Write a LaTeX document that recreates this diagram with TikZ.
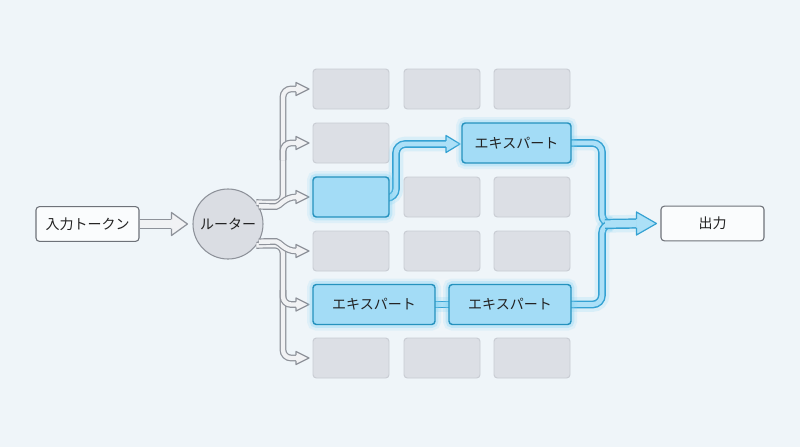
\documentclass[tikz,border=0pt]{standalone}
\usepackage{fontspec}
\newfontfamily\jp{Noto Sans CJK JP}
\usetikzlibrary{calc}
\definecolor{bgc}{HTML}{EFF5F9}
\definecolor{gfill}{HTML}{DCDFE5}
\definecolor{gline}{HTML}{C8CCD3}
\definecolor{pline}{HTML}{8E929A}
\definecolor{pinner}{HTML}{F1F2F4}
\definecolor{rfill}{HTML}{DADDE3}
\definecolor{bfill}{HTML}{A3DCF6}
\definecolor{bline}{HTML}{2592BE}
\definecolor{bpline}{HTML}{35A2D3}
\definecolor{bpfill}{HTML}{ACE0F7}
\definecolor{glowc}{HTML}{7FD3F5}
\definecolor{txt}{HTML}{222222}
\definecolor{ioline}{HTML}{6E7279}
\newcommand\ahead[6]{%
  \fill[fill=#1] (#3) -- ($(#3)+(-#4,-#5)$) -- ($(#3)+(-#4,#5)$) -- cycle;
  \draw[draw=#2,line width=0.9pt,line join=round] ($(#3)+(-#4,-#6)$) -- ($(#3)+(-#4,-#5)$) -- (#3) -- ($(#3)+(-#4,#5)$) -- ($(#3)+(-#4,#6)$);
}
\begin{document}
\begin{tikzpicture}[x=0.75pt,y=-0.75pt,
  every node/.style={font=\jp\fontsize{10.5}{12}\selectfont, text=txt},
  gbox/.style={draw=gline, fill=gfill, line width=0.7pt, rounded corners=2.5pt, minimum width=57pt, minimum height=30pt, inner sep=0pt},
  bbox/.style={draw=bline, fill=bfill, line width=1.1pt, rounded corners=2.5pt, minimum height=30pt, inner sep=0pt,
     preaction={draw=glowc, line width=9pt, opacity=0.15},
     preaction={draw=glowc, line width=5pt, opacity=0.3}},
  iobox/.style={draw=ioline, fill=white!70!bgc, line width=0.8pt, rounded corners=2.5pt, minimum width=77.25pt, minimum height=26pt, inner sep=0pt},
  router/.style={circle, draw=pline, fill=rfill, line width=0.8pt, minimum size=52.5pt, inner sep=0pt},
  gpipe/.style={draw=pline, double=pinner, double distance=3.3pt, line width=0.9pt, rounded corners=6pt},
  inpipe/.style={draw=pline, double=pinner, double distance=6pt, line width=0.9pt},
  bpipe/.style={draw=bpline, double=bpfill, double distance=3.6pt, line width=1.1pt, rounded corners=7pt,
     preaction={draw=glowc, line width=11pt, opacity=0.2}},
  bpipew/.style={draw=bpline, double=bpfill, double distance=5.5pt, line width=1.1pt,
     preaction={draw=glowc, line width=13pt, opacity=0.2}}
]
\fill[bgc] (0,0) rectangle (800,447);
\useasboundingbox (0,0) rectangle (800,447);

% nodes
\node[iobox] (in) at (87.5,224) {入力トークン};
\node[router] (ro) at (228,224) {ルーター};
\node[iobox] (out) at (712.5,223.5) {出力};

\node[gbox] (g11) at (351,89) {};
\node[gbox] (g12) at (442,89) {};
\node[gbox] (g13) at (532,89) {};
\node[gbox] (g21) at (351,143) {};
\node[gbox] (g32) at (442,197) {};
\node[gbox] (g33) at (532,197) {};
\node[gbox] (g41) at (351,251) {};
\node[gbox] (g42) at (442,251) {};
\node[gbox] (g43) at (532,251) {};
\node[gbox] (g61) at (351,358) {};
\node[gbox] (g62) at (442,358) {};
\node[gbox] (g63) at (532,358) {};

% coordinates
\coordinate (tin) at ($(ro.west)+(-5,0)$);
\coordinate (t1) at (309,89);
\coordinate (t2) at (309,143);
\coordinate (t3) at (309,197);
\coordinate (t4) at (309,251);
\coordinate (t5) at (309,304.5);
\coordinate (t6) at (309,358);
\coordinate (te2) at (460,144);
\coordinate (tout) at ($(out.west)+(-4,0)$);

% input arrow
\draw[inpipe] (in.east) -- ($(tin)+(-16,0)$);
\ahead{pinner}{pline}{tin}{16}{11.5}{4.6}

% gray fan
\draw[gpipe] (ro.37) -- (283,203) -- (283,89) -- ($(t1)+(-13,0)$);
\draw[gpipe] (283,160) |- ($(t2)+(-13,0)$);
\draw[gpipe] (ro.-37) -- (283,245) -- (283,358) -- ($(t6)+(-13,0)$);
\draw[gpipe] (283,290) |- ($(t5)+(-13,0)$);
\draw[gpipe] (ro.30) -- (268,206.5) to[out=0,in=180] ($(t3)+(-13,0)$);
\draw[gpipe] (ro.-30) -- (268,241.5) to[out=0,in=180] ($(t4)+(-13,0)$);
\foreach \t in {t1,t2,t3,t4,t5,t6}{\ahead{pinner}{pline}{\t}{13}{6.5}{2.8}}

% blue pipes
\draw[bpipe] (389,198) -- (396,198) -- (396,144) -- ($(te2)+(-14,0)$);
\ahead{bpfill}{bpline}{te2}{14}{8.5}{3.2}
\draw[bpipe] (571,143) -- (602,143) -- (602,224) -- (612,224);
\draw[bpipe] (571,304.5) -- (602,304.5) -- (602,224) -- (612,224);
\draw[bpipew] (605,224) -- ($(tout)+(-20,0)$);
\ahead{bpfill}{bpline}{tout}{20}{11.5}{4.4}
\draw[bpipe] (435,304.5) -- (449,304.5);

% blue boxes
\node[bbox, minimum width=57pt] (b3) at (351,197) {};
\node[bbox, minimum width=81.75pt] (e2) at (516.5,143) {エキスパート};
\node[bbox, minimum width=91.5pt] (e5a) at (374,304.5) {エキスパート};
\node[bbox, minimum width=91.5pt] (e5b) at (510,304.5) {エキスパート};
\end{tikzpicture}
\end{document}
